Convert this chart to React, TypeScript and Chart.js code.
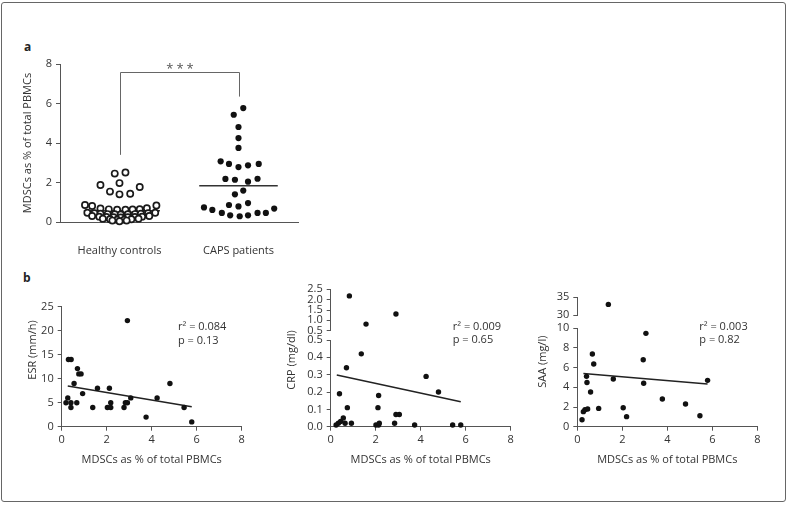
import React, { useEffect, useRef } from 'react';
import { Chart, registerables } from 'chart.js';

Chart.register(...registerables);

const FONT = '"Open Sans", "Noto Sans", "DejaVu Sans", sans-serif';
const TEXT = '#333333';
const AXIS = '#555555';

// ---------- Panel a ----------
const groupLabels = ['Healthy controls', 'CAPS patients'];
const groupPositions = [0.5, 1.5];
const yTicksA = [0, 2, 4, 6, 8];
const sigLabel = '***';
const bracketY = [3.4, 7.6, 6.35];

const healthyX = [
  0.46, 0.55, 0.34, 0.5, 0.42, 0.5, 0.59, 0.67,
  0.21, 0.27, 0.34, 0.41, 0.48, 0.55, 0.61, 0.67, 0.73, 0.81,
  0.23, 0.29, 0.34, 0.4, 0.46, 0.51, 0.57, 0.63, 0.68, 0.74, 0.8,
  0.27, 0.33, 0.39, 0.45, 0.51, 0.57, 0.63, 0.69, 0.75,
  0.36, 0.42, 0.48, 0.54, 0.6, 0.66,
  0.44, 0.5, 0.56,
];
const healthyY = [
  2.45, 2.51, 1.87, 1.97, 1.54, 1.4, 1.43, 1.77,
  0.86, 0.81, 0.68, 0.64, 0.62, 0.62, 0.63, 0.65, 0.7, 0.84,
  0.47, 0.44, 0.42, 0.4, 0.39, 0.38, 0.39, 0.4, 0.42, 0.44, 0.47,
  0.3, 0.27, 0.25, 0.24, 0.23, 0.24, 0.25, 0.27, 0.3,
  0.17, 0.14, 0.12, 0.12, 0.14, 0.17,
  0.07, 0.04, 0.07,
];
const capsX = [
  1.54, 1.46, 1.5, 1.5, 1.5,
  1.35, 1.42, 1.5, 1.58, 1.67,
  1.39, 1.47, 1.58, 1.66,
  1.47, 1.54,
  1.42, 1.5, 1.58,
  1.21, 1.28, 1.36, 1.43, 1.51, 1.58, 1.66, 1.73, 1.8,
];
const capsY = [
  5.77, 5.43, 4.81, 4.25, 3.75,
  3.07, 2.94, 2.78, 2.87, 2.94,
  2.18, 2.14, 2.04, 2.19,
  1.4, 1.59,
  0.86, 0.79, 0.96,
  0.74, 0.61, 0.46, 0.34, 0.29, 0.34, 0.46, 0.46, 0.68,
];
const healthyMedian = 0.57;
const healthyMedianX = [0.2, 0.84];
const capsMedian = 1.84;
const capsMedianX = [1.17, 1.83];

// ---------- Panel b ----------
const xTitleB = 'MDSCs as % of total PBMCs';

const esrX = [2.92, 0.3, 0.42, 0.7, 0.76, 0.86, 0.55, 0.93, 0.27, 0.19, 0.41, 0.41, 0.67, 1.38, 1.59, 2.12, 2.03, 2.18, 2.18, 2.77, 2.83, 2.92, 3.07, 3.75, 4.24, 4.81, 5.44, 5.78];
const esrY = [22.1, 14, 14, 12.1, 11, 11, 9, 6.9, 6, 5, 5, 4, 5, 4, 8, 8, 4, 4, 5, 4, 5, 5, 6, 2, 6, 9, 4, 1];
const esrFitX = [0.27, 5.78];
const esrFitY = [8.47, 4.17];
const esrStats = ['r² = 0.084', 'p = 0.13'];

const crpX = [0.83, 2.9, 1.57, 1.36, 0.7, 0.39, 0.74, 2.13, 2.1, 4.24, 4.79, 2.9, 3.05, 0.56, 0.24, 0.34, 0.44, 0.64, 0.92, 2.01, 2.13, 2.16, 2.84, 3.73, 5.42, 5.78];
const crpY = [2.18, 1.31, 0.82, 0.42, 0.34, 0.19, 0.11, 0.18, 0.11, 0.29, 0.2, 0.07, 0.07, 0.05, 0.01, 0.02, 0.03, 0.02, 0.02, 0.01, 0.01, 0.02, 0.02, 0.01, 0.01, 0.01];
const crpFitX = [0.27, 5.78];
const crpFitY = [0.298, 0.144];
const crpBreak = 0.5;
const crpStats = ['r² = 0.009', 'p = 0.65'];

const saaX = [1.38, 3.05, 0.67, 0.73, 2.93, 0.41, 0.43, 1.6, 2.95, 5.79, 0.59, 3.78, 4.81, 0.95, 2.04, 0.34, 0.46, 0.27, 2.19, 5.45, 0.21];
const saaY = [33.0, 9.49, 7.39, 6.37, 6.81, 5.12, 4.5, 4.85, 4.41, 4.71, 3.53, 2.81, 2.3, 1.86, 1.93, 1.73, 1.8, 1.53, 1.02, 1.12, 0.71];
const saaFitX = [0.27, 5.79];
const saaFitY = [5.42, 4.34];
const saaBreak = 10;
const saaStats = ['r² = 0.003', 'p = 0.82'];

Chart.defaults.font.family = FONT;
Chart.defaults.font.size = 11;
Chart.defaults.color = TEXT;

const baseOptions = (padding: any) => ({
  responsive: false,
  animation: false,
  devicePixelRatio: 1,
  events: [],
  layout: { padding },
  plugins: { legend: { display: false }, tooltip: { enabled: false } },
});

const axisStyle = {
  grid: { drawOnChartArea: false, drawTicks: true, tickLength: 4, color: AXIS, lineWidth: 1 },
  border: { display: true, color: AXIS, width: 1 },
};

const pts = (xs: number[], ys: number[]) => xs.map((x, i) => ({ x, y: ys[i] }));

const dotStyle = {
  pointRadius: 2.7,
  pointBackgroundColor: '#111111',
  pointBorderWidth: 0,
  clip: false as any,
};

const fitStyle = {
  type: 'line' as const,
  borderColor: '#222222',
  borderWidth: 1.5,
  pointRadius: 0,
  showLine: true,
  clip: false as any,
};

const bracketPlugin = {
  id: 'bracket',
  afterDatasetsDraw(chart: any) {
    const { ctx, scales } = chart;
    const x = scales.x;
    const y = scales.y;
    const x0 = Math.round(x.getPixelForValue(groupPositions[0])) + 0.5;
    const x1 = Math.round(x.getPixelForValue(groupPositions[1])) + 0.5;
    const yl = y.getPixelForValue(bracketY[0]);
    const yt = Math.round(y.getPixelForValue(bracketY[1])) + 0.5;
    const yr = y.getPixelForValue(bracketY[2]);
    ctx.save();
    ctx.strokeStyle = '#666666';
    ctx.lineWidth = 1;
    ctx.beginPath();
    ctx.moveTo(x0, yl);
    ctx.lineTo(x0, yt);
    ctx.lineTo(x1, yt);
    ctx.lineTo(x1, yr);
    ctx.stroke();
    ctx.fillStyle = '#555555';
    ctx.font = `13px ${FONT}`;
    (ctx as any).letterSpacing = '3px';
    ctx.textAlign = 'center';
    ctx.textBaseline = 'alphabetic';
    ctx.fillText(sigLabel, (x0 + x1) / 2 + 1.5, yt + 0.5);
    ctx.restore();
  },
};

const annotPlugin = (lines: string[], dx: number, dy: number, yTitle: string, tx: number, ty: number) => ({
  id: 'annot',
  afterDraw(chart: any) {
    const { ctx, chartArea } = chart;
    ctx.save();
    ctx.fillStyle = TEXT;
    ctx.font = `11px ${FONT}`;
    ctx.textAlign = 'left';
    ctx.textBaseline = 'middle';
    lines.forEach((t, i) => ctx.fillText(t, chartArea.left + dx, chartArea.top + dy + i * 13.4));
    ctx.translate(tx, ty);
    ctx.rotate(-Math.PI / 2);
    ctx.textAlign = 'center';
    ctx.fillText(yTitle, 0, 0);
    ctx.restore();
  },
});

const xAxisB = (height: number) => ({
  type: 'linear',
  min: 0,
  max: 8,
  ticks: { stepSize: 2, padding: 2.5, color: TEXT },
  ...axisStyle,
  title: { display: true, text: xTitleB, color: TEXT, font: { size: 11 }, padding: { top: 0, bottom: 3.4 } },
  afterFit: (s: any) => { s.height = height; },
});

function buildA(): any {
  return {
    type: 'scatter',
    data: {
      datasets: [
        {
          data: pts(healthyX, healthyY),
          pointRadius: 3.1,
          pointBorderWidth: 1.7,
          pointBackgroundColor: '#ffffff',
          pointBorderColor: '#1a1a1a',
          clip: false,
        },
        {
          data: pts(capsX, capsY),
          pointRadius: 3.1,
          pointBackgroundColor: '#111111',
          pointBorderWidth: 0,
          clip: false,
        },
        { ...fitStyle, borderColor: '#333333', data: healthyMedianX.map((x) => ({ x, y: healthyMedian })) },
        { ...fitStyle, borderColor: '#333333', data: capsMedianX.map((x) => ({ x, y: capsMedian })) },
      ],
    },
    options: {
      ...baseOptions({ top: 24, right: 12, left: 0, bottom: 0 }),
      scales: {
        x: {
          type: 'linear',
          min: 0,
          max: 2,
          afterBuildTicks: (s: any) => { s.ticks = groupPositions.map((v) => ({ value: v })); },
          ticks: {
            callback: (_v: any, i: number) => groupLabels[i],
            padding: 14,
            color: TEXT,
            font: { size: 11 },
            maxRotation: 0,
            autoSkip: false,
          },
          grid: { display: false },
          border: { display: true, color: AXIS, width: 1 },
          afterFit: (s: any) => { s.height = 43; },
        },
        y: {
          min: yTicksA[0],
          max: yTicksA[yTicksA.length - 1],
          afterBuildTicks: (s: any) => { s.ticks = yTicksA.map((v) => ({ value: v })); },
          ticks: { padding: 4, color: TEXT },
          ...axisStyle,
          title: { display: true, text: 'MDSCs as % of total PBMCs', color: TEXT, font: { size: 11 }, padding: { top: 21, bottom: 0 } },
          afterFit: (s: any) => { s.width = 60; },
        },
      },
    },
    plugins: [bracketPlugin],
  };
}

function buildESR(): any {
  return {
    type: 'scatter',
    data: {
      datasets: [
        { ...dotStyle, data: pts(esrX, esrY) },
        { ...fitStyle, data: pts(esrFitX, esrFitY) },
      ],
    },
    options: {
      ...baseOptions({ top: 26.7, right: 18.3, left: 0, bottom: 0 }),
      scales: {
        x: xAxisB(43.3),
        y: {
          min: 0,
          max: 25,
          ticks: { stepSize: 5, padding: 4, color: TEXT },
          ...axisStyle,
          afterFit: (s: any) => { s.width = 51.7; },
        },
      },
    },
    plugins: [annotPlugin(esrStats, 116.3, 20.3, 'ESR (mm/h)', 23, 70)],
  };
}

function brokenAxes(id: string, upper: [number, number, number], lower: [number, number, number], weights: [number, number, number], width: number, decimals: number) {
  const fmt = (v: any) => Number(v).toFixed(decimals);
  return {
    yU: {
      type: 'linear', axis: 'y', position: 'left', stack: id, stackWeight: weights[0], weight: 3,
      min: upper[0], max: upper[1],
      ticks: { stepSize: upper[2], padding: 4, color: TEXT, autoSkip: false, callback: fmt },
      ...axisStyle,
      afterFit: (s: any) => { s.width = width; },
    },
    yS: {
      type: 'linear', axis: 'y', position: 'left', stack: id, stackWeight: weights[1], weight: 2,
      min: 0, max: 1,
      ticks: { display: false },
      grid: { display: false },
      border: { display: false },
      afterFit: (s: any) => { s.width = width; },
    },
    yL: {
      type: 'linear', axis: 'y', position: 'left', stack: id, stackWeight: weights[2], weight: 1,
      min: lower[0], max: lower[1],
      ticks: { stepSize: lower[2], padding: 4, color: TEXT, autoSkip: false, callback: fmt },
      ...axisStyle,
      afterFit: (s: any) => { s.width = width; },
    },
  };
}

function buildCRP(): any {
  const all = pts(crpX, crpY);
  return {
    type: 'scatter',
    data: {
      datasets: [
        { ...dotStyle, yAxisID: 'yU', data: all.filter((p) => p.y > crpBreak) },
        { ...dotStyle, yAxisID: 'yL', data: all.filter((p) => p.y <= crpBreak) },
        { ...fitStyle, yAxisID: 'yL', data: pts(crpFitX, crpFitY) },
      ],
    },
    options: {
      ...baseOptions({ top: 19.3, right: 19.3, left: 0, bottom: 0 }),
      scales: {
        x: xAxisB(43.3),
        ...brokenAxes('crp', [0.5, 2.5, 0.5], [0, 0.5, 0.1], [41.4, 9.3, 86.7], 60.7, 1),
      },
    },
    plugins: [annotPlugin(crpStats, 122, 37.4, 'CRP (mg/dl)', 21.5, 90)],
  };
}

function buildSAA(): any {
  const all = pts(saaX, saaY);
  return {
    type: 'scatter',
    data: {
      datasets: [
        { ...dotStyle, yAxisID: 'yU', data: all.filter((p) => p.y > saaBreak) },
        { ...dotStyle, yAxisID: 'yL', data: all.filter((p) => p.y <= saaBreak) },
        { ...fitStyle, yAxisID: 'yL', data: pts(saaFitX, saaFitY) },
      ],
    },
    options: {
      ...baseOptions({ top: 27.3, right: 22.7, left: 0, bottom: 0 }),
      scales: {
        x: xAxisB(43.3),
        ...brokenAxes('saa', [30, 35, 5], [0, 10, 2], [17.7, 13.3, 98.3], 57.3, 0),
      },
    },
    plugins: [annotPlugin(saaStats, 122, 29.4, 'SAA (mg/l)', 23, 91.7)],
  };
}

function ChartBox(props: { left: number; top: number; width: number; height: number; build: () => any }) {
  const { left, top, width, height, build } = props;
  const ref = useRef<HTMLCanvasElement>(null);
  useEffect(() => {
    const chart = new Chart(ref.current as HTMLCanvasElement, build());
    return () => chart.destroy();
  }, []);
  return (
    <div style={{ position: 'absolute', left, top, width, height }}>
      <canvas ref={ref} width={width} height={height} style={{ width, height, display: 'block' }} />
    </div>
  );
}

const labelStyle: React.CSSProperties = {
  position: 'absolute',
  fontFamily: FONT,
  fontWeight: 700,
  fontSize: 12,
  color: '#222222',
  lineHeight: '14px',
};

export default function App() {
  return (
    <div style={{ position: 'fixed', left: 0, top: 0, width: 787, height: 505, background: '#ffffff', overflow: 'hidden' }}>
      <div
        style={{
          position: 'absolute',
          left: 1,
          top: 2,
          width: 783,
          height: 498,
          border: '1px solid #666666',
          borderRadius: 3,
        }}
      />
      <div style={{ ...labelStyle, left: 24, top: 40 }}>a</div>
      <div style={{ ...labelStyle, left: 23, top: 271 }}>b</div>
      <ChartBox left={0} top={40} width={310} height={225} build={buildA} />
      <ChartBox left={10} top={280} width={250} height={190} build={buildESR} />
      <ChartBox left={270} top={270} width={260} height={200} build={buildCRP} />
      <ChartBox left={520} top={270} width={260} height={200} build={buildSAA} />
    </div>
  );
}
